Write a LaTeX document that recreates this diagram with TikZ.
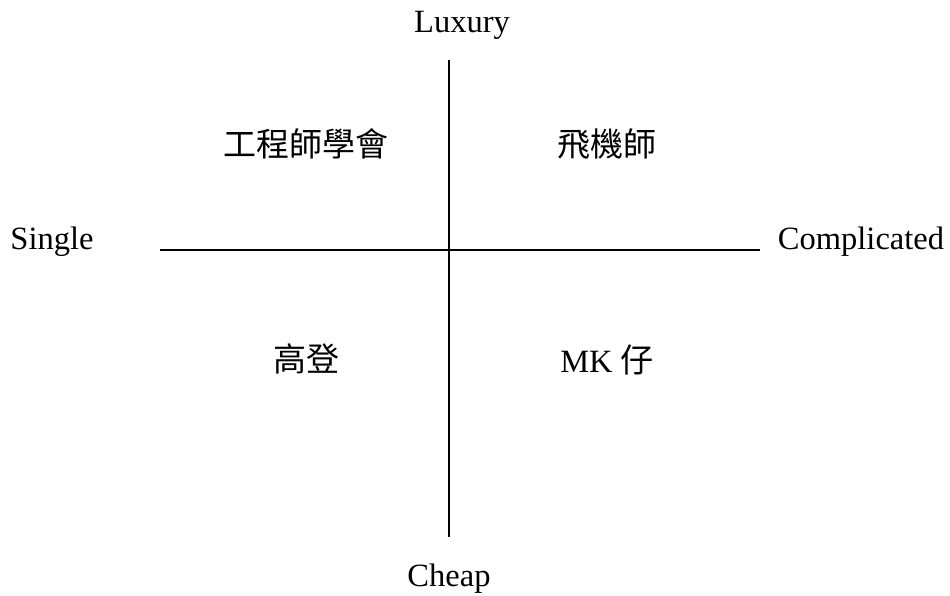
\documentclass[tikz,border=0pt]{standalone}
\usepackage{fontspec}
\setmainfont{Liberation Serif}
\newfontfamily\cjk{Noto Sans CJK TC}
\begin{document}
\begin{tikzpicture}[x=1pt,y=-1pt,
  lbl/.style={font=\fontsize{32.5}{36}\selectfont, inner sep=0pt},
  cjklbl/.style={font=\cjk\fontsize{33}{36}\selectfont, inner sep=0pt},
  axis/.style={line width=1.5pt, black}]
\useasboundingbox (0,0) rectangle (950,595);
\coordinate (vt) at (449,60);
\coordinate (vb) at (449,537);
\coordinate (hl) at (160,250);
\coordinate (hr) at (760,250);
\draw[axis] (vt) -- (vb);
\draw[axis] (hl) -- (hr);
\node[lbl] (lux) at (462,25) {Luxury};
\node[lbl] (cheap) at (449,579) {Cheap};
\node[lbl] (single) at (52,242) {Single};
\node[lbl] (comp) at (861,242) {Complicated};
\node[cjklbl] (q1) at (306,144) {工程師學會};
\node[cjklbl] (q2) at (607,144) {飛機師};
\node[cjklbl] (q3) at (306,359) {高登};
\node[lbl] (q4) at (607,360) {MK {\cjk\fontsize{33}{36}\selectfont 仔}};
\end{tikzpicture}
\end{document}
